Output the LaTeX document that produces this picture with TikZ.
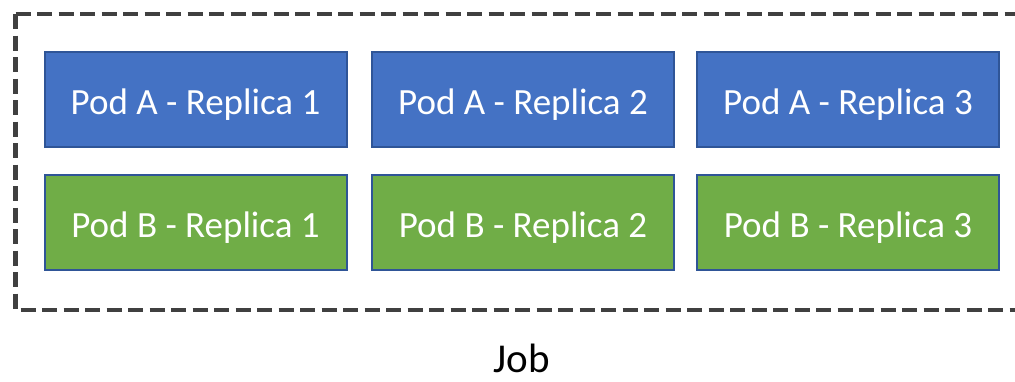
\documentclass[tikz,border=0pt]{standalone}
\usepackage{fontspec}
\setmainfont{Carlito}
\definecolor{podblue}{HTML}{4472C4}
\definecolor{podgreen}{HTML}{70AD47}
\definecolor{podedge}{HTML}{2F5597}
\definecolor{jobedge}{HTML}{404040}
\tikzset{
  podbox/.style={draw=podedge, line width=2pt, minimum width=302pt, minimum height=95pt,
    inner sep=0pt, text height=29.6pt, text depth=0pt, text=white,
    font=\fontsize{37}{40}\selectfont},
  poda/.style={podbox, fill=podblue},
  podb/.style={podbox, fill=podgreen},
  jobframe/.style={draw=jobedge, line width=4.5pt, dash pattern=on 15pt off 6.5pt},
}
\begin{document}
\begin{tikzpicture}[x=1pt,y=-1pt]
\useasboundingbox (0,0) rectangle (1015,381);
\begin{scope}
  \clip (0,0) rectangle (1015,381);
  % the frame runs on past the right edge
  \draw[jobframe] (15.5,14) -- (1030,14) (15.5,14) -- (15.5,310) -- (1030,310);
\end{scope}
\node[poda] (a1) at (195.5,99.5) {Pod A - Replica 1};
\node[poda] (a2) at (523,99.5) {Pod A - Replica 2};
\node[poda] (a3) at (848,99.5) {Pod A - Replica 3};
\node[podb] (b1) at (195.5,222.5) {Pod B - Replica 1};
\node[podb] (b2) at (523,222.5) {Pod B - Replica 2};
\node[podb] (b3) at (848,222.5) {Pod B - Replica 3};
\node[font=\fontsize{41}{44}\selectfont, anchor=base, inner sep=0pt] (job) at (522,372) {Job};
\end{tikzpicture}
\end{document}
